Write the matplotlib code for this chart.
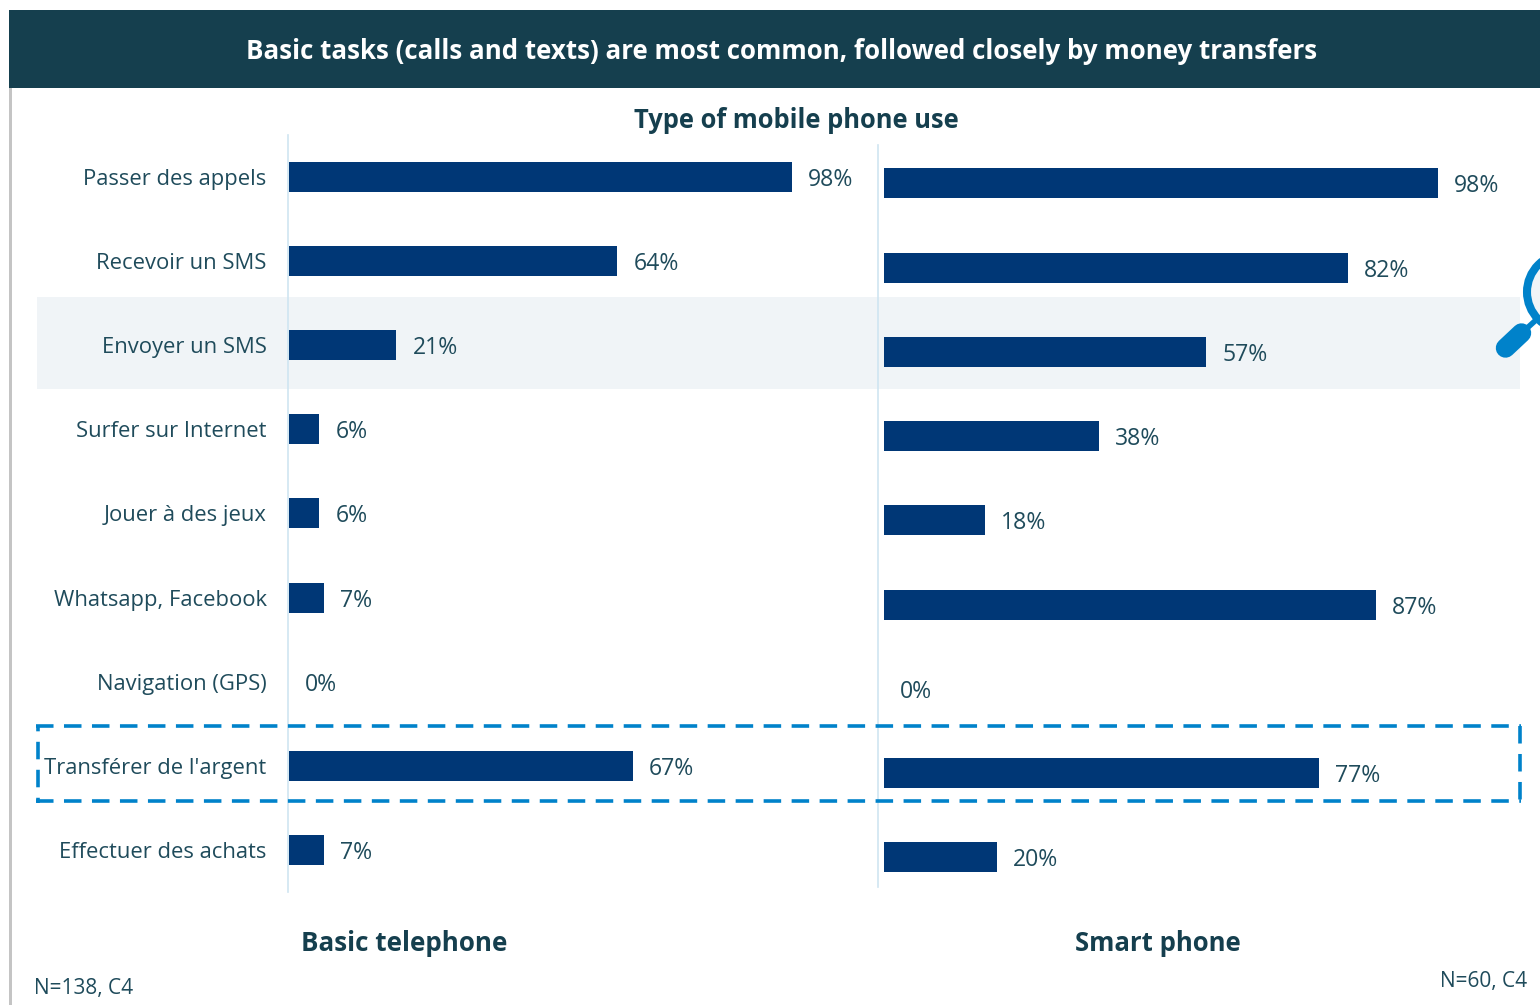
import matplotlib
matplotlib.use("Agg")
import matplotlib.pyplot as plt
from matplotlib.patches import Rectangle, Circle
from matplotlib.lines import Line2D

plt.rcParams['font.family'] = ['Open Sans', 'DejaVu Sans']

categories = ["Passer des appels", "Recevoir un SMS", "Envoyer un SMS", "Surfer sur Internet",
              "Jouer à des jeux", "Whatsapp, Facebook", "Navigation (GPS)",
              "Transférer de l'argent", "Effectuer des achats"]
basic_phone = [98, 64, 21, 6, 6, 7, 0, 67, 7]
smart_phone = [98, 82, 57, 38, 18, 87, 0, 77, 20]

TITLE = "Basic tasks (calls and texts) are most common, followed closely by money transfers"
SUBTITLE = "Type of mobile phone use"
PANEL_NAMES = ["Basic telephone", "Smart phone"]
NOTES = ["N=138, C4", "N=60, C4"]

W, H = 1540, 1005
DARK = "#153F4E"
TEXT = "#1F4B5B"
BAR = "#003776"
BLUE = "#0082CA"
RULE = "#CFE5F1"

fig = plt.figure(figsize=(W / 100, H / 100), dpi=100, facecolor="white")


def pixel_axes(x0, y0, x1, y1, **kw):
    """Axes placed by its pixel box, with y measured from the top edge."""
    return fig.add_axes([x0 / W, 1 - y1 / H, (x1 - x0) / W, (y1 - y0) / H], **kw)


# Page furniture drawn on a full-size layer in pixel units
page = pixel_axes(0, 0, W, H)
page.set_xlim(0, W)
page.set_ylim(H, 0)
page.axis("off")
page.add_patch(Rectangle((9, 10), W - 9, 78, fc=DARK, ec="none"))
page.add_patch(Rectangle((9, 88), 3, H - 88, fc="#C4C4C4", ec="none"))
page.add_patch(Rectangle((37, 297), 1483, 92, fc="#F0F4F7", ec="none"))

page.text(782, 51.5, TITLE, color="white", fontsize=18.6, fontweight="bold", ha="center", va="center")
page.text(796, 120, SUBTITLE, color=DARK, fontsize=18.4, fontweight="bold", ha="center", va="center")
page.text(404, 943.5, PANEL_NAMES[0], color=DARK, fontsize=18.7, fontweight="bold", ha="center", va="center")
page.text(1158, 943.5, PANEL_NAMES[1], color=DARK, fontsize=18.5, fontweight="bold", ha="center", va="center")
page.text(34, 988, NOTES[0], color=TEXT, fontsize=15, ha="left", va="center")
page.text(1527, 981, NOTES[1], color=TEXT, fontsize=15, ha="right", va="center")


def draw_panel(ax, values, zero_px, px_per_unit, first_px, band_px, top_px, show_labels):
    x0_px = ax.get_position().x0 * W
    x1_px = ax.get_position().x1 * W
    ax.set_xlim((x0_px - zero_px) / px_per_unit, (x1_px - zero_px) / px_per_unit)
    bottom_px = H - ax.get_position().y0 * H
    ax.set_ylim((bottom_px - first_px) / band_px, (top_px - first_px) / band_px)
    positions = range(len(values))
    bars = ax.barh(positions, values, height=30 / band_px, color=BAR)
    value_labels = ax.bar_label(bars, labels=[f"{v}%" for v in values], padding=11.5,
                                color=TEXT, fontsize=16.6)
    for label in value_labels:
        label.set_verticalalignment("center_baseline")
    ax.patch.set_alpha(0)
    for side in ("top", "right", "bottom"):
        ax.spines[side].set_visible(False)
    ax.spines["left"].set_color(RULE)
    ax.spines["left"].set_linewidth(1.2)
    ax.set_xticks([])
    if show_labels:
        ax.set_yticks(list(positions), categories, color=TEXT, fontsize=15.8)
        ax.tick_params(axis="y", length=0, pad=15)
    else:
        ax.set_yticks([])


left = pixel_axes(287.5, 135, 878, 892)
draw_panel(left, basic_phone, 288.5, 5.14, 176.5, 84.2, 135, True)
right = pixel_axes(878, 145, 1530, 887)
draw_panel(right, smart_phone, 883.5, 5.66, 183.5, 84.2, 145, False)

# Overlay for the dashed highlight box and the magnifier icon
top = pixel_axes(0, 0, W, H)
top.set_xlim(0, W)
top.set_ylim(H, 0)
top.axis("off")
top.patch.set_alpha(0)

box_sides = [
    ([36, 1521], [726, 726], 0.0),
    ([1520, 1520], [726, 801], 0.0),
    ([36, 1521], [801, 801], 0.0),
    ([37.5, 37.5], [802.5, 726], 3.4),
]
for xs, ys, phase in box_sides:
    top.add_line(Line2D(xs, ys, color=BLUE, lw=2.6, solid_capstyle="butt",
                        dash_capstyle="butt", ls=(phase, (4.85, 2.9))))

top.add_patch(Circle((1565.5, 292), 38.5, fc="#F0F4F7", ec=BLUE, lw=5.8))
top.add_line(Line2D([1525, 1536], [330, 320], color=BLUE, lw=4, solid_capstyle="butt"))
top.add_line(Line2D([1505.5, 1521.5], [348, 333], color=BLUE, lw=14, solid_capstyle="round"))

fig.savefig("out.png", dpi=100)
